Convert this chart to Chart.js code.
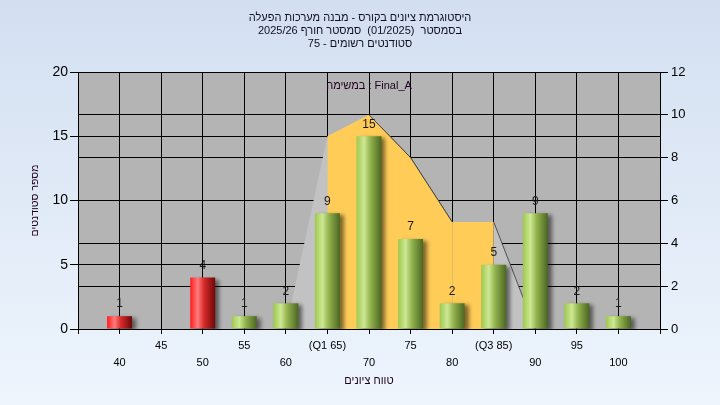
<!DOCTYPE html>
<html><head><meta charset="utf-8">
<script src="https://cdn.jsdelivr.net/npm/chart.js@4"></script>
<style>html,body{margin:0;padding:0;background:#e4edf8;overflow:hidden}</style>
</head><body>
<canvas id="c" width="720" height="405"></canvas>
<script>
const titleLines = ['היסטוגרמת ציונים בקורס - מבנה מערכות הפעלה', 'בסמסטר  (01/2025)  סמסטר חורף 2025/26', 'סטודנטים רשומים - 75'];
const legendText = 'במשימה : Final_A';
const yTitle = 'מספר סטודנטים';
const xTitle = 'טווח ציונים';
const categories = [40, 45, 50, 55, 60, 65, 70, 75, 80, 85, 90, 95, 100];
const tickLabels = ['40', '45', '50', '55', '60', '(Q1 65)', '70', '75', '80', '(Q3 85)', '90', '95', '100'];
const counts = [1, 0, 4, 1, 2, 9, 15, 7, 2, 5, 9, 2, 1];
const curveX = [60, 65, 70, 75, 80, 85, 90];
const curveY = [0, 9, 10, 8, 5, 5, 0];
const q1 = 65, q3 = 85;
const passGrade = 55;
const xRange = [35, 105, 5];
const yRange = [0, 20, 5];
const y2Range = [0, 12, 2];

const FONT = "'Liberation Sans', 'DejaVu Sans', Arial, sans-serif";

function barGradient(c) {
  const chart = c.chart;
  const xs = chart.scales && chart.scales.x;
  const i = c.dataIndex;
  const red = categories[i] < passGrade;
  if (!xs || xs.width === undefined || !isFinite(xs.getPixelForValue(categories[i]))) return red ? '#e02020' : '#94b850';
  const cx = xs.getPixelForValue(categories[i]);
  const w = Math.abs(xs.getPixelForValue(categories[1]) - xs.getPixelForValue(categories[0])) * 0.6;
  const g = chart.ctx.createLinearGradient(cx - w / 2, 0, cx + w / 2, 0);
  if (red) {
    g.addColorStop(0, '#ff1c1c'); g.addColorStop(0.3, '#ff7b7b');
    g.addColorStop(0.55, '#d82a2a'); g.addColorStop(1, '#6e0808');
  } else {
    g.addColorStop(0, '#9ec84e'); g.addColorStop(0.3, '#cde894');
    g.addColorStop(0.55, '#93b44e'); g.addColorStop(1, '#4c6622');
  }
  return g;
}

const downEdge = s => (s.p1.parsed.y < s.p0.parsed.y ? 'rgba(60,60,60,0.85)' : 'rgba(0,0,0,0)');

const deco = {
  id: 'deco',
  beforeDraw(chart) {
    const { ctx, chartArea: a } = chart;
    ctx.save();
    const g = ctx.createLinearGradient(0, 0, 0, chart.height);
    g.addColorStop(0, '#d3dff1'); g.addColorStop(1, '#eef5fd');
    ctx.fillStyle = g; ctx.fillRect(0, 0, chart.width, chart.height);
    ctx.fillStyle = '#b4b4b4';
    ctx.fillRect(a.left, a.top, a.right - a.left, a.bottom - a.top);
    ctx.restore();
  },
  beforeDatasetDraw(chart, args) {
    if (args.meta.type === 'bar') {
      const ctx = chart.ctx;
      ctx.save();
      ctx.shadowColor = 'rgba(0,0,0,0.5)';
      ctx.shadowBlur = 4; ctx.shadowOffsetX = 4; ctx.shadowOffsetY = 2;
    }
  },
  afterDatasetDraw(chart, args) {
    if (args.meta.type === 'bar') chart.ctx.restore();
  },
  afterDraw(chart) {
    const { ctx, chartArea: a } = chart;
    ctx.save();
    ctx.fillStyle = '#101020';
    ctx.textAlign = 'center'; ctx.textBaseline = 'middle';
    ctx.font = '11px ' + FONT;
    titleLines.forEach((t, i) => ctx.fillText(t, 360, 18 + i * 13));
    ctx.fillStyle = '#200020';
    ctx.fillText(legendText, (a.left + a.right) / 2, 86);
    ctx.fillText(xTitle, (a.left + a.right) / 2, 381);
    ctx.save();
    ctx.translate(35, (a.top + a.bottom) / 2);
    ctx.rotate(-Math.PI / 2);
    ctx.font = '10.5px ' + FONT;
    ctx.fillText(yTitle, 0, 0);
    ctx.restore();
    // value labels
    const meta = chart.getDatasetMeta(0);
    ctx.fillStyle = '#1a1a1a';
    ctx.font = '12px ' + FONT;
    meta.data.forEach((el, i) => {
      if (!counts[i]) return;
      ctx.fillText(String(counts[i]), el.x, el.y - 12);
    });
    ctx.restore();
  }
};

new Chart(document.getElementById('c'), {
  type: 'bar',
  data: {
    datasets: [
      {
        type: 'bar',
        data: categories.map((c, i) => ({ x: c, y: counts[i] })),
        yAxisID: 'y',
        backgroundColor: barGradient,
        borderWidth: 0,
        barPercentage: 0.75,
        categoryPercentage: 0.8,
        order: 0
      },
      {
        type: 'line',
        data: curveX.map((x, i) => ({ x, y: curveY[i] })).filter(p => p.x >= q1 && p.x <= q3),
        yAxisID: 'y2',
        fill: 'origin',
        backgroundColor: '#ffcc58',
        borderWidth: 1,
        segment: { borderColor: downEdge },
        pointRadius: 0,
        tension: 0,
        order: 1
      },
      {
        type: 'line',
        data: curveX.map((x, i) => ({ x, y: curveY[i] })),
        yAxisID: 'y2',
        fill: 'origin',
        backgroundColor: '#c2c2c2',
        borderWidth: 1,
        segment: { borderColor: downEdge },
        pointRadius: 0,
        tension: 0,
        order: 2
      }
    ]
  },
  options: {
    responsive: false,
    animation: false,
    devicePixelRatio: 1,
    layout: { padding: { top: 72, left: 0, right: 0, bottom: 0 } },
    plugins: { legend: { display: false }, title: { display: false }, tooltip: { enabled: false } },
    events: [],
    scales: {
      x: {
        type: 'linear',
        min: xRange[0], max: xRange[1],
        offset: false,
        grid: { offset: false, color: '#000', lineWidth: 1, tickLength: 5, tickColor: '#000' },
        border: { color: '#000', width: 1 },
        ticks: {
          stepSize: xRange[2], autoSkip: false, maxRotation: 0, minRotation: 0,
          color: '#000', padding: 3,
          font: { family: FONT, size: 11, lineHeight: 1.55 },
          callback: v => {
            const i = categories.indexOf(v);
            if (i < 0) return '';
            return i % 2 ? [tickLabels[i], ''] : ['', tickLabels[i]];
          }
        },
        afterFit(s) { s.height = 76; }
      },
      y: {
        position: 'left',
        min: yRange[0], max: yRange[1],
        grid: { color: '#000', lineWidth: 1, tickLength: 8, tickColor: '#000' },
        border: { color: '#000', width: 1 },
        ticks: { stepSize: yRange[2], color: '#000', padding: 2, font: { family: FONT, size: 14 } },
        afterFit(s) { s.width = 78; }
      },
      y2: {
        position: 'right',
        min: y2Range[0], max: y2Range[1],
        grid: { color: '#000', lineWidth: 1, tickLength: 8, tickColor: '#000', drawOnChartArea: true },
        border: { color: '#000', width: 1 },
        ticks: { stepSize: y2Range[2], color: '#000', padding: 3, font: { family: FONT, size: 13 } },
        afterFit(s) { s.width = 60; }
      }
    }
  },
  plugins: [deco]
});
</script>
</body></html>
